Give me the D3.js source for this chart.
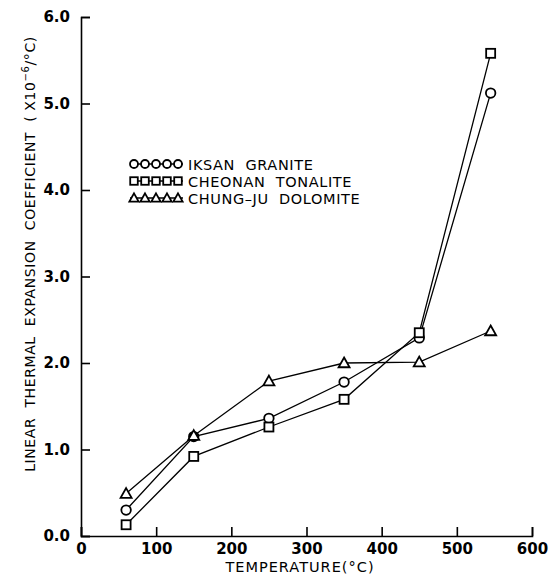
<!DOCTYPE html>
<html>
<head>
<meta charset="utf-8">
<script src="https://cdn.jsdelivr.net/npm/d3@7"></script>
<style>
  body { margin: 0; background: #fff; }
  text { font-family: "DejaVu Sans", sans-serif; fill: #000; white-space: pre; }
</style>
</head>
<body>
<div id="chart"></div>
<script>
// data
var temps = [60, 150, 250, 350, 450, 545];
var granite = [0.30, 1.15, 1.36, 1.78, 2.29, 5.12];
var tonalite = [0.13, 0.92, 1.26, 1.58, 2.35, 5.58];
var dolomite = [0.49, 1.16, 1.79, 2.00, 2.01, 2.37];
var xTicks = [0, 100, 200, 300, 400, 500, 600];
var yTicks = [0, 1, 2, 3, 4, 5, 6];

var series = [
  { name: "IKSAN  GRANITE", values: granite, shape: "circle" },
  { name: "CHEONAN  TONALITE", values: tonalite, shape: "square" },
  { name: "CHUNG\u2013JU  DOLOMITE", values: dolomite, shape: "triangle" }
];

var svgWidth = 558;
var svgHeight = 574;

var svg = d3.select("#chart")
  .append("svg")
  .attr("width", svgWidth)
  .attr("height", svgHeight);

var x = d3.scaleLinear().domain([0, 600]).range([81, 532]);
var y = d3.scaleLinear().domain([0, 6]).range([536, 17]);

// axes (ticks point inward)
var bottomAxis = d3.axisBottom(x).tickValues(xTicks).tickSize(-9).tickFormat(d3.format("d"));
var leftAxis = d3.axisLeft(y).tickValues(yTicks).tickSize(-9).tickFormat(d3.format(".1f"));

var xAxis = svg.append("g")
  .attr("transform", `translate(0, ${y(0)})`)
  .call(bottomAxis);

var yAxis = svg.append("g")
  .attr("transform", `translate(${x(0)}, 0)`)
  .call(leftAxis);

[xAxis, yAxis].forEach(function(a) {
  a.select(".domain").attr("stroke", "#000").attr("stroke-width", 1.6);
  a.selectAll(".tick line").attr("stroke", "#000").attr("stroke-width", 1.6);
  a.selectAll(".tick text")
    .attr("fill", "#000")
    .style("font-family", "'DejaVu Sans', sans-serif")
    .style("font-size", "15px")
    .style("font-weight", "bold");
});
xAxis.selectAll(".tick text").attr("dy", null).attr("y", 18);
yAxis.selectAll(".tick text").attr("x", -11);

// axis titles
svg.append("text")
  .attr("x", 300)
  .attr("y", 572)
  .attr("text-anchor", "middle")
  .style("font-size", "14.5px")
  .style("letter-spacing", "1px")
  .text("TEMPERATURE(\u00B0C)");

var yTitle = svg.append("text")
  .attr("transform", "translate(35, 254) rotate(-90)")
  .attr("text-anchor", "middle")
  .style("font-size", "14px")
  .style("letter-spacing", "0.6px");
yTitle.append("tspan").text("LINEAR  THERMAL  EXPANSION  COEFFICIENT  ( X10");
yTitle.append("tspan").attr("dy", -6).style("font-size", "10px").text("\u22126");
yTitle.append("tspan").attr("dy", 6).text("/\u00B0C)");

// markers
function drawMarker(g, shape, cx, cy, filled, sz) {
  var fill = filled ? "#000" : "#fff";
  var r = sz || 5;
  if (shape === "circle") {
    g.append("circle").attr("cx", cx).attr("cy", cy).attr("r", r * 0.95)
      .attr("fill", fill).attr("stroke", "#000").attr("stroke-width", 1.8);
  } else if (shape === "square") {
    g.append("rect").attr("x", cx - r * 0.9).attr("y", cy - r * 0.9).attr("width", r * 1.8).attr("height", r * 1.8)
      .attr("fill", fill).attr("stroke", "#000").attr("stroke-width", 1.8);
  } else {
    g.append("path")
      .attr("d", `M${cx},${cy - r * 1.1}L${cx + r * 1.1},${cy + r * 0.85}L${cx - r * 1.1},${cy + r * 0.85}Z`)
      .attr("fill", fill).attr("stroke", "#000").attr("stroke-width", 1.8);
  }
}

var line = d3.line()
  .x(d => x(d[0]))
  .y(d => y(d[1]));

var plot = svg.append("g");

series.forEach(function(s) {
  var pts = temps.map((t, i) => [t, s.values[i]]);
  plot.append("path")
    .datum(pts)
    .attr("d", line)
    .attr("fill", "none")
    .attr("stroke", "#000")
    .attr("stroke-width", 1.3);
});

series.forEach(function(s) {
  temps.forEach(function(t, i) {
    // the three markers at 150 overlap into a black blob
    drawMarker(plot, s.shape, x(t), y(s.values[i]), s.shape === "circle" && t === 150);
  });
});

// legend
var legend = svg.append("g");
series.forEach(function(s, i) {
  var ly = 164 + i * 17;
  legend.append("line")
    .attr("x1", 130).attr("x2", 183)
    .attr("y1", ly).attr("y2", ly)
    .attr("stroke", "#000").attr("stroke-width", 1.3);
  for (var k = 0; k < 5; k++) {
    drawMarker(legend, s.shape, 134 + k * 11, ly, false, 4.2);
  }
  legend.append("text")
    .attr("x", 188)
    .attr("y", ly + 5.5)
    .style("font-size", "14.5px")
    .style("letter-spacing", "0.6px")
    .text(s.name);
});
</script>
</body>
</html>
